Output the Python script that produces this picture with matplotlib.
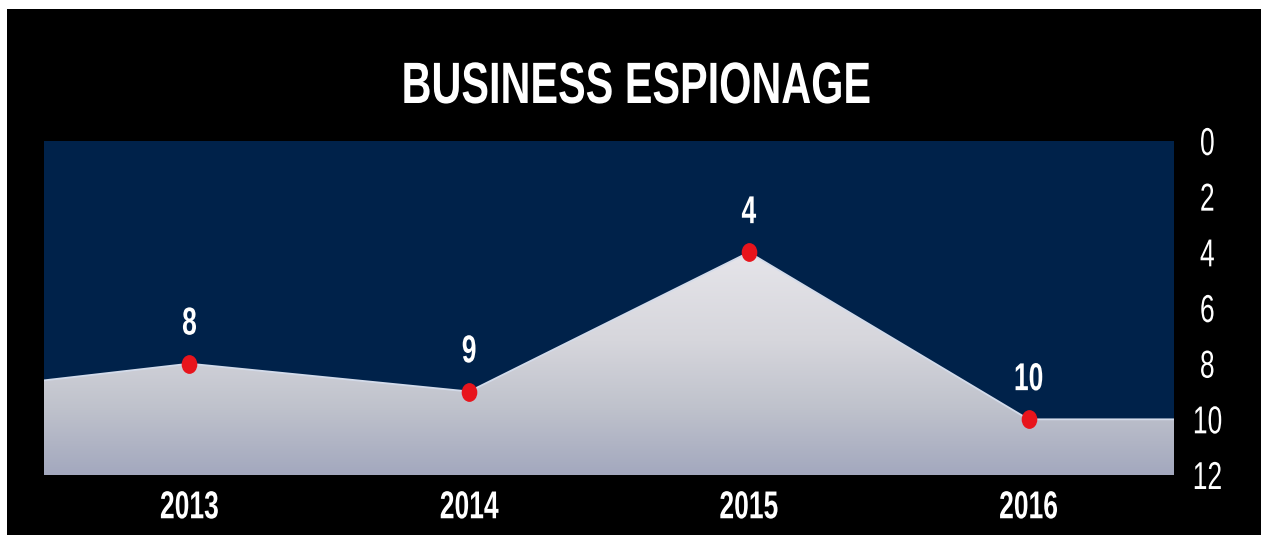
import matplotlib.pyplot as plt
import numpy as np
from matplotlib.colors import LinearSegmentedColormap
from matplotlib.patches import Rectangle
from matplotlib.patheffects import AbstractPathEffect
from matplotlib.transforms import Affine2D
from matplotlib.path import Path

# data
years = [2013, 2014, 2015, 2016]
values = [8, 9, 4, 10]
edge_left = 8.6    # value where the area enters the plot on the left
edge_right = 10    # value where the area leaves the plot on the right
y_ticks = [0, 2, 4, 6, 8, 10, 12]
title = "BUSINESS ESPIONAGE"

FONT = ['Liberation Sans', 'DejaVu Sans']
NAVY = '#00224a'
RED = '#e8141c'


class Condense(AbstractPathEffect):
    """squeeze glyphs horizontally (no condensed font installed)"""
    def __init__(self, sx=0.7):
        super().__init__()
        self.sx = sx

    def draw_path(self, renderer, gc, tpath, affine, rgbFace=None):
        ext = tpath.get_extents()
        cx = (ext.x0 + ext.x1) / 2
        t = Affine2D().translate(-cx, 0).scale(self.sx, 1).translate(cx, 0)
        renderer.draw_path(gc, tpath, t + affine, rgbFace)


fig = plt.figure(figsize=(12.61, 5.35), dpi=100, facecolor='white')
# black panel with a thin white margin top/left
fig.patches.append(Rectangle((7 / 1261, 0), 1 - 7 / 1261, 1 - 9 / 535,
                             transform=fig.transFigure, facecolor='black',
                             edgecolor='none', zorder=-5))

ax = fig.add_axes([44 / 1261, 1 - 475 / 535, 1130 / 1261, 334 / 535])
ax.set_facecolor(NAVY)

xl, xr = years[0] - 0.52, years[-1] + 0.52
xs = [xl] + years + [xr]
ys = [edge_left] + values + [edge_right]

ax.set_xlim(xl, xr)
ax.set_ylim(12, 0)

# gradient fill under the line
poly = ax.fill_between(xs, ys, 12, facecolor='none', edgecolor='none')
cmap = LinearSegmentedColormap.from_list(
    'g', [(0, '#e8e7eb'), (0.33, '#e6e5ea'), (0.6, '#d6d6dc'),
          (0.8, '#bfc2cc'), (1, '#a3a8be')])
grad = np.linspace(0, 1, 256).reshape(-1, 1)
im = ax.imshow(grad, cmap=cmap, aspect='auto', extent=(xl, xr, 12, 0),
               origin='upper', zorder=1)
im.set_clip_path(poly.get_paths()[0], transform=ax.transData)
ax.plot(xs, ys, color='#d3dbea', lw=1.3, zorder=2)

circ = Path.unit_circle()
dot = Path(circ.vertices * [0.82, 1], circ.codes)
ax.plot(years, values, linestyle='none', marker=dot, color=RED,
        markersize=12.5, zorder=3)

squeeze = [Condense(0.68)]
for x, v in zip(years, values):
    ax.annotate(str(v), (x, v), xytext=(0, 21), textcoords='offset points',
                ha='center', va='baseline', color='white', fontsize=28,
                fontweight='bold', family=FONT, path_effects=squeeze)

ax.set_xticks(years)
ax.set_xticklabels([str(y) for y in years], color='white', fontsize=28,
                   fontweight='bold', family=FONT)
ax.yaxis.tick_right()
ax.set_yticks(y_ticks)
ax.set_yticklabels([str(t) for t in y_ticks], color='white', fontsize=28,
                   family=FONT, ha='center')
ax.tick_params(axis='x', length=0, pad=11)
ax.tick_params(axis='y', length=0, pad=24)
for lab in ax.get_xticklabels() + ax.get_yticklabels():
    lab.set_path_effects(squeeze)
for s in ax.spines.values():
    s.set_visible(False)

fig.text(636 / 1261, 1 - 103 / 535, title, ha='center', va='baseline',
         color='white', fontsize=42, fontweight='bold', family=FONT,
         path_effects=[Condense(0.71)])

fig.savefig('out.png', dpi=100, facecolor=fig.get_facecolor())
